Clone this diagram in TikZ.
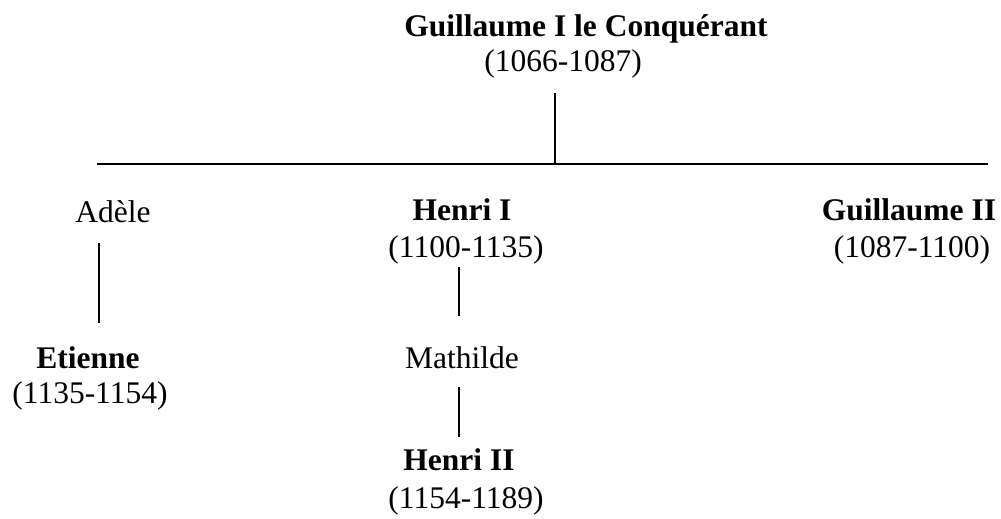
\documentclass[tikz,border=0pt]{standalone}
\usepackage{fontspec}
\setmainfont{Liberation Serif}
\begin{document}
\begin{tikzpicture}[x=1pt,y=1pt,
  txt/.style={anchor=base,inner sep=0pt,font=\fontsize{31.5}{36}\selectfont},
  bname/.style={txt,font=\fontsize{31.5}{36}\selectfont\bfseries},
  link/.style={line width=1.6pt,black}]
\useasboundingbox (0,0) rectangle (1001,-519);
% persons
\node[bname] (g1) at (586,-37) {Guillaume I le Conquérant};
\node[txt] (g1d) at (563,-71) {(1066-1087)};
\node[txt] (adele) at (113,-222) {Adèle};
\node[bname] (h1) at (462,-220) {Henri I};
\node[txt] (h1d) at (466,-257) {(1100-1135)};
\node[bname] (g2) at (909,-220) {Guillaume II};
\node[txt] (g2d) at (912,-257) {(1087-1100)};
\node[bname] (et) at (88,-368) {Etienne};
\node[txt] (etd) at (90,-403) {(1135-1154)};
\node[txt] (ma) at (462,-368) {Mathilde};
\node[bname] (h2) at (459,-470) {Henri II};
\node[txt] (h2d) at (466,-508) {(1154-1189)};
% connector points
\coordinate (g1top) at (555,-93);
\coordinate (bar) at (555,-164);
\coordinate (barL) at (97,-164);
\coordinate (barR) at (988,-164);
\coordinate (adB) at (99,-243);
\coordinate (etT) at (99,-323);
\coordinate (h1B) at (459,-267);
\coordinate (maT) at (459,-316);
\coordinate (maB) at (459,-387);
\coordinate (h2T) at (459,-437);
\draw[link] (g1top) -- (bar);
\draw[link] (barL) -- (barR);
\draw[link] (adB) -- (etT);
\draw[link] (h1B) -- (maT);
\draw[link] (maB) -- (h2T);
\end{tikzpicture}
\end{document}
